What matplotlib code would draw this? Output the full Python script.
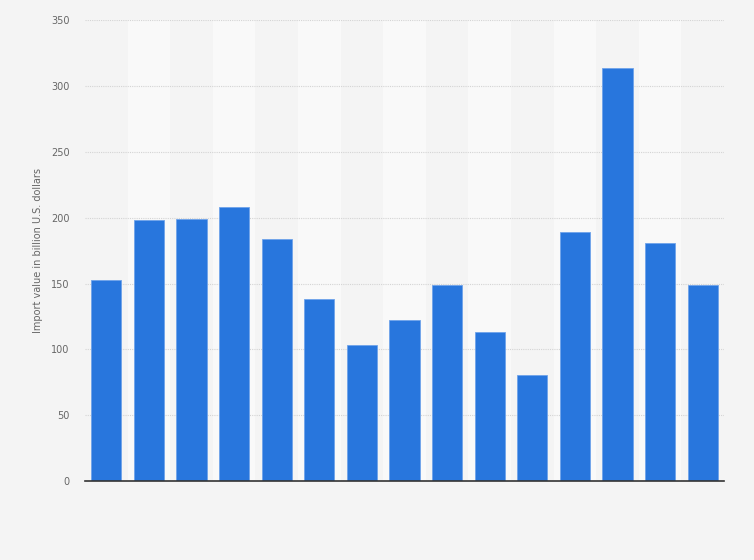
import numpy as np
import matplotlib
matplotlib.use("Agg")
import matplotlib.pyplot as plt

# bar values (billion U.S. dollars)
positions = list(range(15))
values = [153, 198, 199, 208, 184, 138, 103, 122, 149, 113, 80.5, 189, 313.5, 181, 149]
y_ticks = [0, 50, 100, 150, 200, 250, 300, 350]

bg = "#f4f4f4"
fig = plt.figure(figsize=(7.54, 5.6), dpi=100, facecolor=bg)
ax = fig.add_axes([0.1127, 0.141, 0.8475, 0.823])
ax.set_facecolor(bg)

# alternating column shading
for i in positions:
    if i % 2 == 1:
        ax.axvspan(i - 0.5, i + 0.5, color="#f9f9f9", zorder=0, lw=0)

ax.bar(positions, values, width=0.71, color="#2876dd", edgecolor="#6fa3ea",
       linewidth=0.6, zorder=3)

ax.set_xlim(-0.5, 14.5)
ax.set_ylim(0, 350)
ax.set_yticks(y_ticks)
ax.set_xticks([])
ax.yaxis.grid(True, color="#d4d4d4", linestyle=(0, (1, 1)), linewidth=0.8, zorder=1)
ax.tick_params(axis="y", length=0, labelsize=7, labelcolor="#666666", pad=11)
for s in ["top", "right", "left"]:
    ax.spines[s].set_visible(False)
ax.spines["bottom"].set_color("#333333")
ax.spines["bottom"].set_linewidth(1.2)
ax.spines["bottom"].set_zorder(4)

ax.set_ylabel("Import value in billion U.S. dollars", fontsize=7, color="#666666", labelpad=6)

fig.savefig("out.png", dpi=100, facecolor=bg)
